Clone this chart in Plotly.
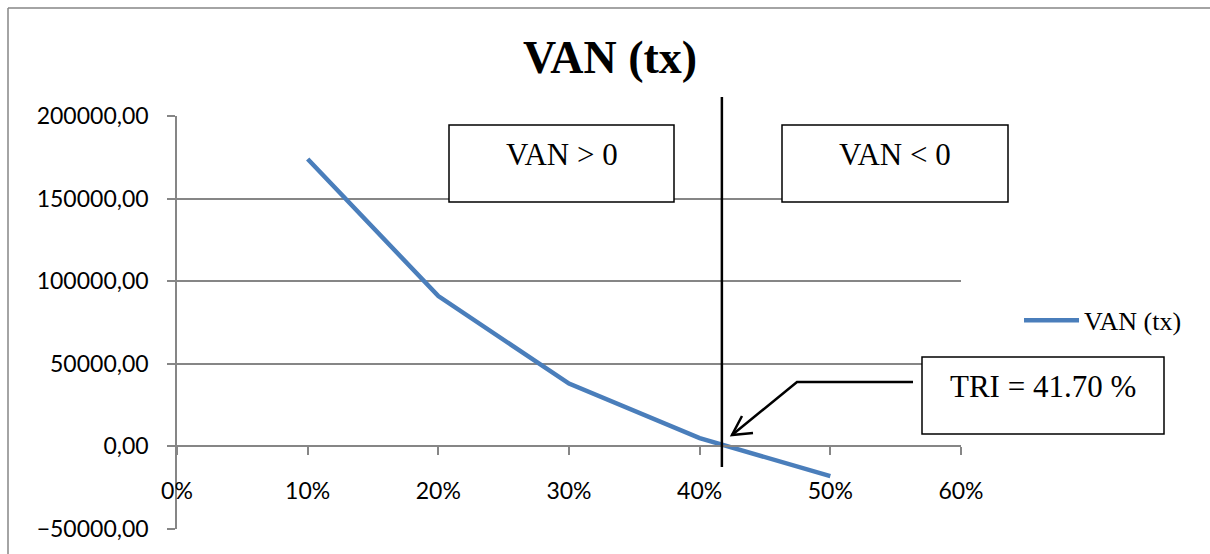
import plotly.graph_objects as go

# Net present value (VAN) as a function of the discount rate
rates = [0.10, 0.20, 0.30, 0.40, 0.50]
van = [174000, 91000, 38000, 5000, -18000]
series_name = "VAN (tx)"
tri = 0.417  # internal rate of return (TRI)
tri_label = "TRI = 41.70 %"
zone_labels = ["VAN > 0", "VAN < 0"]

y_ticks = [-50000, 0, 50000, 100000, 150000, 200000]
x_ticks = [0.0, 0.1, 0.2, 0.3, 0.4, 0.5, 0.6]

GRID = "#868686"
BLUE = "#4A7EBB"
SERIF = "Liberation Serif"
SANS = "Lato"

W, H = 1210, 554
L, R, T, B = 177, 249, 116, 25
PW, PH = W - L - R, H - T - B


def px(x):
    """canvas x pixel -> paper fraction"""
    return (x - L) / PW


def py(y):
    """canvas y pixel -> paper fraction"""
    return (H - B - y) / PH


fig = go.Figure()
fig.add_trace(go.Scatter(
    x=rates, y=van, mode="lines", name=series_name,
    line=dict(color=BLUE, width=4.5),
))

# zero of the y range, as a fraction of the plot height
zero_frac = (0 - y_ticks[0]) / (y_ticks[-1] - y_ticks[0])

fig.update_layout(
    width=W, height=H,
    margin=dict(l=L, r=R, t=T, b=B, pad=0),
    paper_bgcolor="white", plot_bgcolor="white",
    separators=", ",
    title=dict(
        text=series_name, xref="container", yref="container",
        x=610 / W, y=1 - 57 / H, xanchor="center", yanchor="middle",
        font=dict(family=SERIF, size=46, color="black", weight="bold"),
    ),
    xaxis=dict(
        range=[x_ticks[0], x_ticks[-1]], tickvals=x_ticks, tickformat=".0%",
        showgrid=False, zeroline=False,
        showline=True, linecolor=GRID, linewidth=1.5,
        anchor="free", position=zero_frac,
        ticks="outside", ticklen=8, tickcolor=GRID, tickwidth=1.5,
        ticklabelstandoff=16,
        tickfont=dict(family=SANS, size=23, color="black"),
    ),
    yaxis=dict(
        range=[y_ticks[0], y_ticks[-1]], tickvals=y_ticks, tickformat=".2f",
        showgrid=True, gridcolor=GRID, gridwidth=1.5, zeroline=False,
        showline=True, linecolor=GRID, linewidth=1.5,
        ticks="outside", ticklen=8, tickcolor=GRID, tickwidth=1.5,
        ticklabelstandoff=14,
        tickfont=dict(family=SANS, size=23, color="black"),
    ),
    showlegend=True,
    legend=dict(
        x=1.074, y=0.5055, xanchor="left", yanchor="middle",
        font=dict(family=SERIF, size=26, color="black"),
        bgcolor="rgba(0,0,0,0)", itemwidth=55, borderwidth=0,
    ),
)

# outer chart frame (left and top edges)
frame = dict(color=GRID, width=1.5)
fig.add_shape(type="line", xref="paper", yref="paper",
              x0=px(8), x1=px(8), y0=py(8), y1=py(H + 10), line=frame)
fig.add_shape(type="line", xref="paper", yref="paper",
              x0=px(8), x1=px(W + 10), y0=py(8), y1=py(8), line=frame)

# vertical marker at the TRI
fig.add_shape(type="line", xref="x", yref="paper",
              x0=tri, x1=tri, y0=py(467), y1=py(97),
              line=dict(color="black", width=2.5))

# zone boxes and their labels
boxes = [(449, 674), (782, 1008)]
for (bx0, bx1), lab in zip(boxes, zone_labels):
    fig.add_shape(type="rect", xref="paper", yref="paper",
                  x0=px(bx0), x1=px(bx1), y0=py(202), y1=py(125),
                  line=dict(color="black", width=1.5), fillcolor="white")
    fig.add_annotation(xref="paper", yref="paper", x=px((bx0 + bx1) / 2), y=py(154),
                       text=lab, showarrow=False, xanchor="center", yanchor="middle",
                       font=dict(family=SERIF, size=31, color="black"))

# TRI callout box
fig.add_shape(type="rect", xref="paper", yref="paper",
              x0=px(922), x1=px(1164), y0=py(434), y1=py(357),
              line=dict(color="black", width=1.5), fillcolor="white")
fig.add_annotation(xref="paper", yref="paper", x=px(1043), y=py(386),
                   text=tri_label, showarrow=False, xanchor="center", yanchor="middle",
                   font=dict(family=SERIF, size=31, color="black"))

# leader line with an open arrowhead pointing at the zero crossing
leader = [(913, 382), (797, 382), (732, 435)]
head = [(742, 416), (732, 435), (753, 433)]


def path_of(points):
    return "M " + " L ".join(f"{px(x):.5f},{py(y):.5f}" for x, y in points)


for pts in (leader, head):
    fig.add_shape(type="path", xref="paper", yref="paper", path=path_of(pts),
                  line=dict(color="black", width=2.5))

fig.write_html("out.html")
